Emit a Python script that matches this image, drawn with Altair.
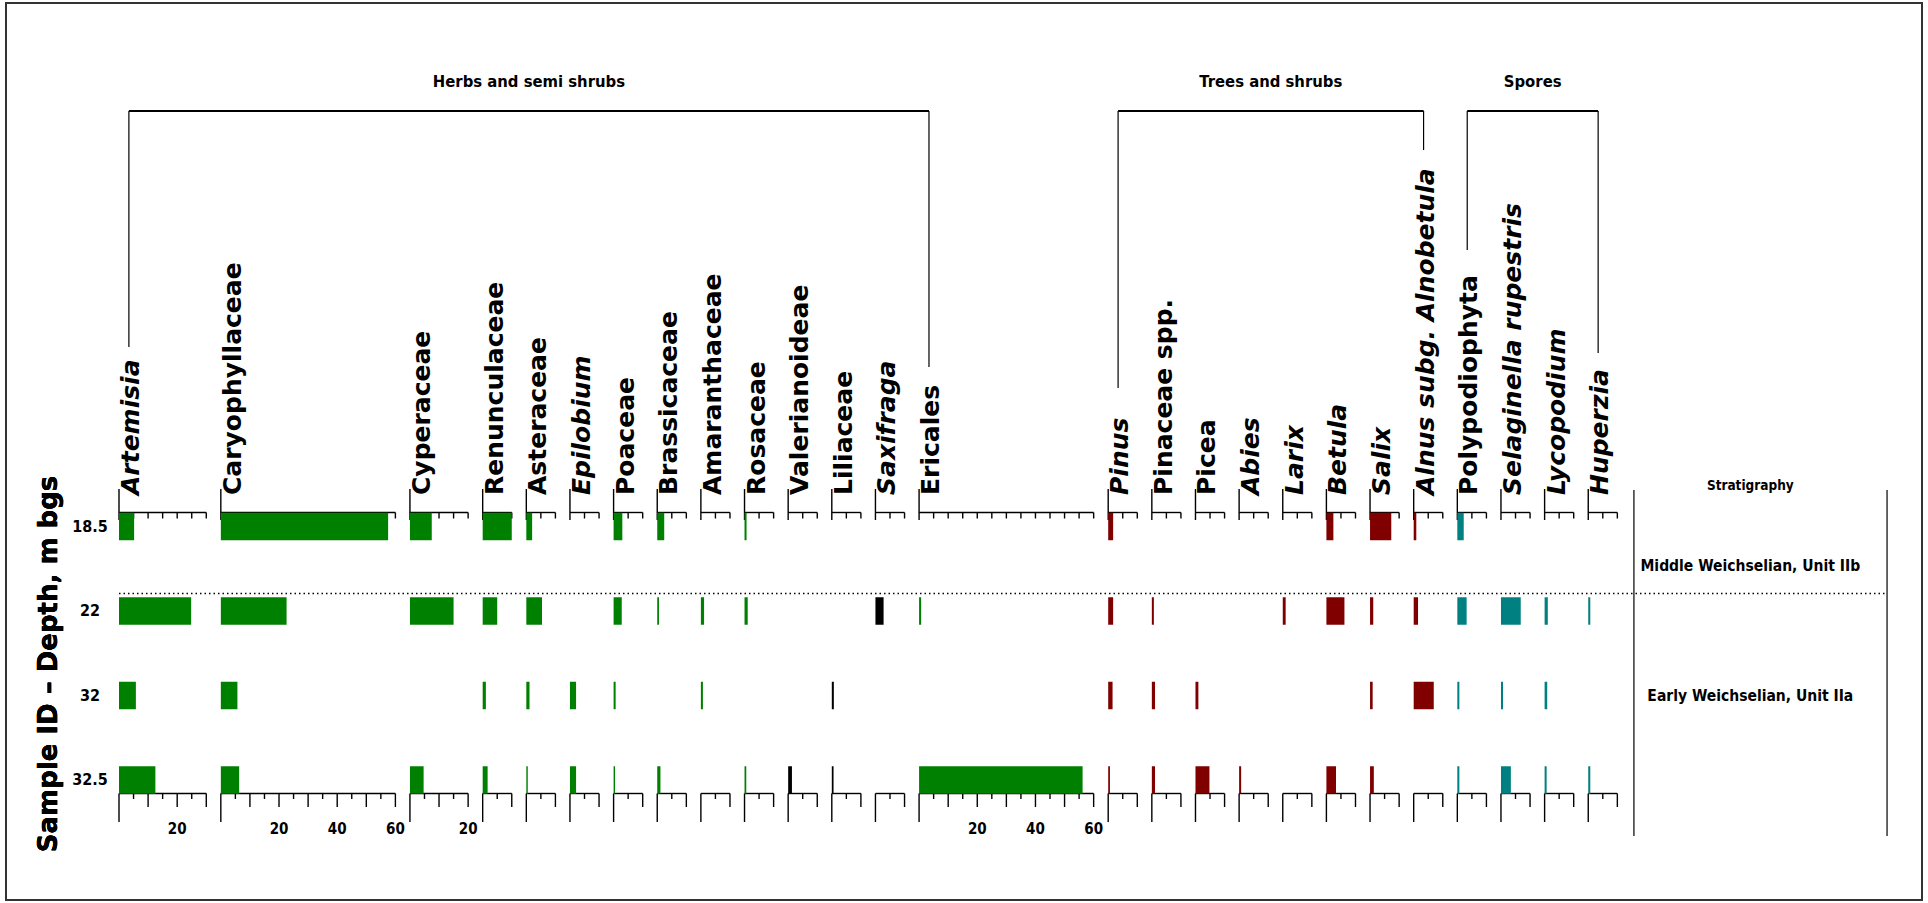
import altair as alt
import pandas as pd

# ---------------- data ----------------
taxa = ["Artemisia", "Caryophyllaceae", "Cyperaceae", "Renunculaceae", "Asteraceae",
        "Epilobium", "Poaceae", "Brassicaceae", "Amaranthaceae", "Rosaceae",
        "Valerianoideae", "Liliaceae", "Saxifraga", "Ericales",
        "Pinus", "Pinaceae spp.", "Picea", "Abies", "Larix", "Betula", "Salix",
        "Alnus subg. Alnobetula",
        "Polypodiophyta", "Selaginella rupestris", "Lycopodium", "Huperzia"]
italic_taxa = ["Artemisia", "Epilobium", "Saxifraga", "Pinus", "Abies", "Larix",
               "Betula", "Salix", "Alnus subg. Alnobetula", "Selaginella rupestris",
               "Lycopodium", "Huperzia"]
taxon_class = (["herb"] * 10 + ["other"] * 3 + ["herb"]
               + ["tree"] * 8 + ["spore"] * 4)
axis_max = [30, 60, 20] + [10] * 10 + [60] + [10] * 12

samples = ["18.5", "22", "32", "32.5"]
pct_18_5 = [5.2, 57.5, 7.5, 10.0, 2.0, 0, 3.0, 2.4, 0, 0.7, 0, 0, 0, 0,
            1.7, 0, 0, 0, 0, 2.4, 7.3, 0.9,
            2.2, 0, 0, 0]
pct_22 = [24.8, 22.6, 15.0, 5.0, 5.4, 0, 2.8, 0.6, 1.1, 1.1, 0, 0, 2.8, 0.7,
          1.7, 0.7, 0, 0, 1.0, 6.2, 1.1, 1.5,
          3.2, 6.8, 1.1, 0.7]
pct_32 = [5.8, 5.7, 0, 1.1, 1.1, 2.1, 0.7, 0, 0.7, 0, 0, 0.7, 0, 0,
          1.5, 1.1, 1.0, 0, 0, 0, 0.9, 6.9,
          0.7, 0.7, 0.9, 0]
pct_32_5 = [12.5, 6.3, 4.7, 1.7, 0.5, 2.1, 0.5, 1.1, 0, 0.6, 1.3, 0.6, 0, 56.2,
            0.6, 1.1, 4.8, 0.7, 0, 3.3, 1.3, 0,
            0.7, 3.4, 0.7, 0.7]

group_names = ["Herbs and semi shrubs", "Trees and shrubs", "Spores"]
group_first = ["Artemisia", "Pinus", "Polypodiophyta"]
group_last = ["Ericales", "Alnus subg. Alnobetula", "Huperzia"]

strat_labels = ["Stratigraphy", "Middle Weichselian, Unit IIb", "Early Weichselian, Unit IIa"]

class_names = ["herb", "tree", "spore", "other"]
class_colours = ["#008000", "#800000", "#008080", "#000000"]

# ---------------- layout ----------------
W, H = 1928, 903
PAD_L, PAD_T = 6, 3
VW, VH = W - 2 * PAD_L, H - 2 * PAD_T
UNIT = 2.9094            # px per percent
GAP = 5                  # percent units between panels
X_ORIGIN = 119 - PAD_L   # zero line of the first panel inside the view
LABEL_MID = 3.4          # bracket legs sit over the middle of the taxon names

TOP_AXIS, BOT_AXIS = 512.5, 793.5
ROW_RANGE = [484.25 - PAD_T, 822.25 - PAD_T]
BRACKET_Y = 111
bracket_left_end = [347, 388, 250]
bracket_right_end = [367, 150, 353]
strat_text_y = [486, 566, 696]
strat_text_size = [13.5, 15.5, 15.5]

NARROW = "DejaVu Sans Condensed, Liberation Sans, sans-serif"
WIDE = "DejaVu Sans, Verdana, sans-serif"


def vy(page_y):
    return page_y - PAD_T


offsets = []
pos = 0
for m in axis_max:
    offsets.append(pos)
    pos += m + GAP
panels_end = offsets[-1] + axis_max[-1]
strat_left = panels_end + 5.7
strat_right = strat_left + 87

xs = alt.Scale(domain=[-X_ORIGIN / UNIT, (VW - X_ORIGIN) / UNIT], range=[0, VW],
               nice=False, zero=False)
ys_rows = alt.Scale(domain=samples, range=ROW_RANGE, paddingInner=0.6746, paddingOuter=0.3373)
ys_page = alt.Scale(domain=[PAD_T, PAD_T + VH], range=[0, VH], nice=False, zero=False)
colour = alt.Color("cls:N", scale=alt.Scale(domain=class_names, range=class_colours), legend=None)

# ---------------- tables ----------------
bar_rows = []
for s, vals in zip(samples, [pct_18_5, pct_22, pct_32, pct_32_5]):
    for t, v, o, c in zip(taxa, vals, offsets, taxon_class):
        if v > 0:
            bar_rows.append({"taxon": t, "sample": s, "pct": v, "x0": o, "x1": o + v, "cls": c})
bars = pd.DataFrame(bar_rows)

panels = pd.DataFrame({
    "taxon": taxa,
    "x0": offsets,
    "x1": [o + m for o, m in zip(offsets, axis_max)],
    "italic": [t in italic_taxa for t in taxa],
})

tick_rows = []
for o, m in zip(offsets, axis_max):
    for t in range(5, m + 1, 5):
        tick_rows.append({"x": o + t, "value": str(t), "major": t % 10 == 0,
                          "labelled": m >= 20 and t % 20 == 0})
ticks = pd.DataFrame(tick_rows)

idx = {t: i for i, t in enumerate(taxa)}
brackets = pd.DataFrame({
    "group": group_names,
    "xl": [offsets[idx[t]] + LABEL_MID for t in group_first],
    "xr": [offsets[idx[t]] + LABEL_MID for t in group_last],
    "ytop": [BRACKET_Y] * 3,
    "yl": bracket_left_end,
    "yr": bracket_right_end,
})
brackets["xm"] = (brackets["xl"] + brackets["xr"]) / 2

strat = pd.DataFrame({"label": strat_labels, "x": [strat_left + 40] * 3,
                      "y": strat_text_y, "size": strat_text_size})
strat_lines = pd.DataFrame({"x": [strat_left, strat_right]})
divider = pd.DataFrame({"x0": [0], "x1": [strat_right]})
sample_df = pd.DataFrame({"sample": samples})

# ---------------- layers ----------------
line = dict(color="black", strokeWidth=1.4)

axis_top = alt.Chart(panels).mark_rule(**line).encode(
    x=alt.X("x0:Q", scale=xs, axis=None), x2="x1:Q", y=alt.value(vy(TOP_AXIS)))
axis_bot = alt.Chart(panels).mark_rule(**line).encode(
    x=alt.X("x0:Q", scale=xs, axis=None), x2="x1:Q", y=alt.value(vy(BOT_AXIS)))
zero_top = alt.Chart(panels).mark_rule(**line).encode(
    x=alt.X("x0:Q", scale=xs, axis=None), y=alt.value(vy(489)), y2=alt.value(vy(520)))
zero_bot = alt.Chart(panels).mark_rule(**line).encode(
    x=alt.X("x0:Q", scale=xs, axis=None), y=alt.value(vy(BOT_AXIS)), y2=alt.value(vy(822)))

ticks_top = alt.Chart(ticks).mark_rule(**line).encode(
    x=alt.X("x:Q", scale=xs, axis=None), y=alt.value(vy(TOP_AXIS)), y2=alt.value(vy(518.5)))
ticks_bot_minor = alt.Chart(ticks).transform_filter("!datum.major").mark_rule(**line).encode(
    x=alt.X("x:Q", scale=xs, axis=None), y=alt.value(vy(BOT_AXIS)), y2=alt.value(vy(799)))
ticks_bot_major = alt.Chart(ticks).transform_filter("datum.major").mark_rule(**line).encode(
    x=alt.X("x:Q", scale=xs, axis=None), y=alt.value(vy(BOT_AXIS)), y2=alt.value(vy(807)))
tick_labels = alt.Chart(ticks).transform_filter("datum.labelled").mark_text(
    font=NARROW, fontSize=15, fontWeight="bold", baseline="middle", align="center", color="black"
).encode(x=alt.X("x:Q", scale=xs, axis=None), y=alt.value(vy(829)), text="value:N")

bar_layer = alt.Chart(bars).mark_bar().encode(
    x=alt.X("x0:Q", scale=xs, axis=None), x2="x1:Q",
    y=alt.Y("sample:N", scale=ys_rows, axis=None),
    color=colour,
    tooltip=["taxon:N", "sample:N", "pct:Q"])

name_style = dict(font=WIDE, fontSize=25, fontWeight="bold", angle=270,
                  align="left", baseline="top", color="black")
names_upright = alt.Chart(panels).transform_filter("!datum.italic").mark_text(**name_style).encode(
    x=alt.X("x0:Q", scale=xs, axis=None), y=alt.value(vy(495)), text="taxon:N")
names_italic = alt.Chart(panels).transform_filter("datum.italic").mark_text(
    fontStyle="italic", **name_style).encode(
    x=alt.X("x0:Q", scale=xs, axis=None), y=alt.value(vy(495)), text="taxon:N")

bracket_top = alt.Chart(brackets).mark_rule(color="black", strokeWidth=2).encode(
    x=alt.X("xl:Q", scale=xs, axis=None), x2="xr:Q", y=alt.value(vy(BRACKET_Y)))
bracket_left = alt.Chart(brackets).mark_rule(color="black", strokeWidth=1.2).encode(
    x=alt.X("xl:Q", scale=xs, axis=None),
    y=alt.Y("ytop:Q", scale=ys_page, axis=None), y2="yl:Q")
bracket_right = alt.Chart(brackets).mark_rule(color="black", strokeWidth=1.2).encode(
    x=alt.X("xr:Q", scale=xs, axis=None),
    y=alt.Y("ytop:Q", scale=ys_page, axis=None), y2="yr:Q")
group_titles = alt.Chart(brackets).mark_text(
    font=NARROW, fontSize=16.5, fontWeight="bold", align="center", baseline="middle", color="black"
).encode(x=alt.X("xm:Q", scale=xs, axis=None), y=alt.value(vy(82)), text="group:N")

sample_labels = alt.Chart(sample_df).mark_text(
    font=NARROW, fontSize=16, fontWeight="bold", align="center", baseline="middle", color="black"
).encode(x=alt.value(90 - PAD_L), y=alt.Y("sample:N", scale=ys_rows, axis=None), text="sample:N")

y_title = alt.Chart(sample_df).mark_text(
    font=WIDE, fontSize=26, fontWeight="bold", angle=270, align="center", baseline="middle",
    color="black", text="Sample ID – Depth, m bgs"
).encode(x=alt.value(49 - PAD_L), y=alt.value(vy(664)))

divider_line = alt.Chart(divider).mark_rule(color="black", strokeWidth=1.6, strokeDash=[1.5, 3]).encode(
    x=alt.X("x0:Q", scale=xs, axis=None), x2="x1:Q", y=alt.value(vy(593.5)))

strat_rules = alt.Chart(strat_lines).mark_rule(color="black", strokeWidth=1.2).encode(
    x=alt.X("x:Q", scale=xs, axis=None), y=alt.value(vy(490)), y2=alt.value(vy(836)))
strat_text = alt.Chart(strat).mark_text(
    font=NARROW, fontWeight="bold", align="center", baseline="middle", color="black"
).encode(x=alt.X("x:Q", scale=xs, axis=None), y=alt.Y("y:Q", scale=ys_page, axis=None),
         text="label:N", size=alt.Size("size:Q", scale=None, legend=None))

chart = alt.layer(
    axis_top, axis_bot, zero_top, zero_bot, ticks_top, ticks_bot_minor, ticks_bot_major,
    tick_labels, bar_layer, names_upright, names_italic,
    bracket_top, bracket_left, bracket_right, group_titles,
    sample_labels, y_title, divider_line, strat_rules, strat_text,
).resolve_scale(y="independent").properties(
    width=VW, height=VH,
    padding={"left": PAD_L, "top": PAD_T, "right": PAD_L, "bottom": PAD_T},
    autosize=alt.AutoSizeParams(type="none"),
).configure_view(stroke="#333333", strokeWidth=2)

chart.save("out.html", embed_options={"renderer": "svg", "actions": False})
